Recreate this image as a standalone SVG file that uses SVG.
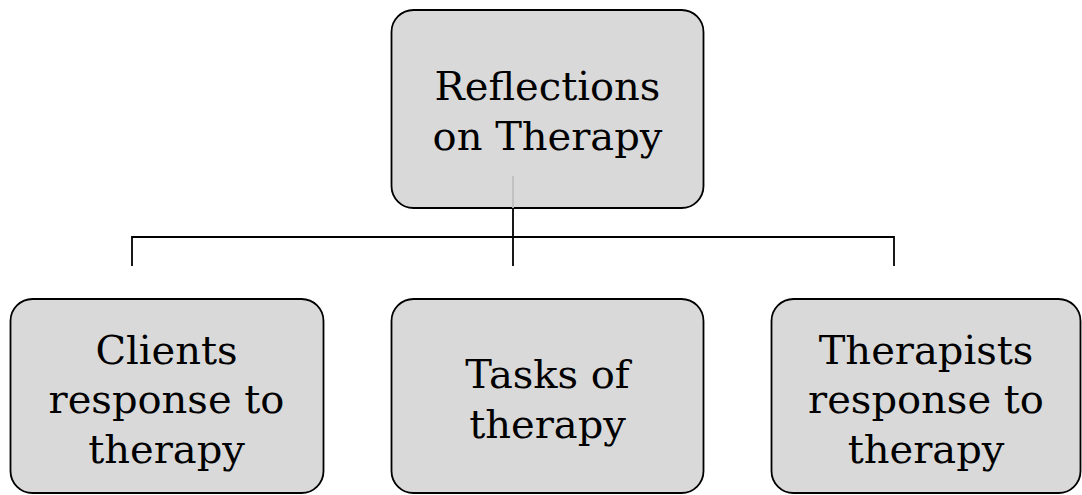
<svg xmlns="http://www.w3.org/2000/svg" width="1082" height="495" viewBox="0 0 1082 495">
  <style>
    .box { fill: #d9d9d9; stroke: #000; stroke-width: 1.8; }
    .label { font-family: "DejaVu Serif", "Liberation Serif", serif; font-size: 40px; fill: #000; text-anchor: middle; }
    .wire { fill: none; stroke: #000; stroke-width: 1.8; }
    .wire-inner { fill: none; stroke: #bfbfbf; stroke-width: 1.8; }
  </style>
  <rect width="1082" height="495" fill="#fff"/>

  <g id="root">
    <rect class="box" x="391.5" y="10" width="312" height="198" rx="22"/>
    <text class="label"><tspan x="547.5" y="100">Reflections</tspan><tspan x="547.5" y="150">on Therapy</tspan></text>
  </g>

  <!-- tree connector: trunk from the root, crossbar, three drops -->
  <g id="connectors">
    <line class="wire-inner" x1="513" y1="176" x2="513" y2="208"/>
    <line class="wire" x1="513" y1="208" x2="513" y2="266"/>
    <polyline class="wire" points="132,266 132,237 894,237 894,266"/>
  </g>

  <g id="clients">
    <rect class="box" x="10.5" y="299" width="313" height="194" rx="22"/>
    <text class="label"><tspan x="166.5" y="364">Clients</tspan><tspan x="166.5" y="413">response to</tspan><tspan x="166.5" y="463">therapy</tspan></text>
  </g>

  <g id="tasks">
    <rect class="box" x="391.5" y="299" width="312" height="194" rx="22"/>
    <text class="label"><tspan x="547.5" y="388">Tasks of</tspan><tspan x="547.5" y="438">therapy</tspan></text>
  </g>

  <g id="therapists">
    <rect class="box" x="771.5" y="299" width="309" height="194" rx="22"/>
    <text class="label"><tspan x="926" y="364">Therapists</tspan><tspan x="926" y="413">response to</tspan><tspan x="926" y="463">therapy</tspan></text>
  </g>
</svg>
